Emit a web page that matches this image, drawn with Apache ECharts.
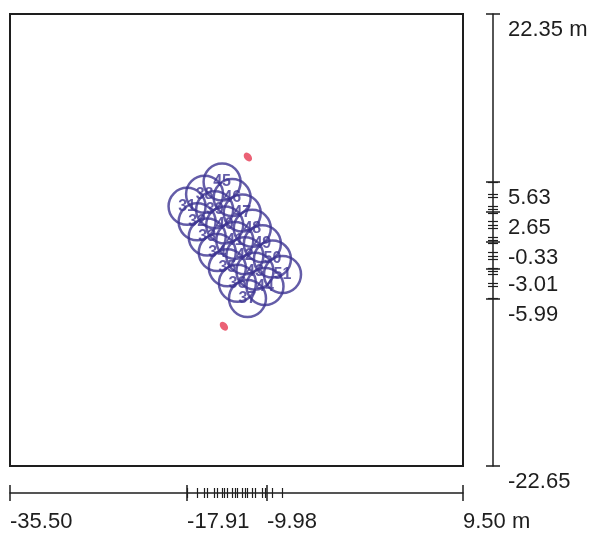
<!DOCTYPE html>
<html>
<head>
<meta charset="utf-8">
<script src="https://cdn.jsdelivr.net/npm/echarts@6/dist/echarts.min.js"></script>
<style>
  html, body { margin: 0; padding: 0; background: #fff; }
  #main { width: 598px; height: 535px; }
</style>
</head>
<body>
<div id="main"></div>
<script>
// sensor positions (m)
var sensorId = [31, 32, 33, 34, 35, 36, 37, 38, 39, 40, 41, 42, 43, 44, 45, 46, 47, 48, 49, 50, 51];
var sensorX = [-17.91, -16.91, -15.91, -14.91, -13.91, -12.91, -11.91,
               -16.17, -15.17, -14.17, -13.17, -12.17, -11.17, -10.17,
               -14.43, -13.43, -12.43, -11.43, -10.43, -9.43, -8.43];
var sensorY = [3.20, 1.67, 0.14, -1.39, -2.92, -4.45, -5.98,
               4.40, 2.87, 1.34, -0.19, -1.72, -3.25, -4.78,
               5.63, 4.07, 2.54, 1.01, -0.52, -2.05, -3.58];

// red markers
var markerX = [-11.87, -14.25];
var markerY = [8.11, -8.73];

// ruler ticks
var xMajor = [-35.5, -17.91, -9.98, 9.5];
var xMajorLabels = ['-35.50', '-17.91', '-9.98', '9.50 m'];
var yMajor = [22.35, 5.63, 2.65, -0.33, -3.01, -5.99, -22.65];
var yMajorLabels = ['22.35 m', '5.63', '2.65', '-0.33', '-3.01', '-5.99', '-22.65'];

var xMin = -35.5, xMax = 9.5, yMin = -22.65, yMax = 22.35;
var ink = '#1e1e1e';
var purple = '#3d3592';
var font = 'Liberation Sans, Arial, sans-serif';

function labelOf(values, labels) {
  return function (v) {
    for (var i = 0; i < values.length; i++) {
      if (Math.abs(values[i] - v) < 1e-6) return labels[i];
    }
    return '';
  };
}

// extra axes used only as rulers beside the plot
function ruler(kind, extra) {
  var a = {
    type: 'value',
    min: kind == 'x' ? xMin : yMin,
    max: kind == 'x' ? xMax : yMax,
    position: kind == 'x' ? 'bottom' : 'right',
    offset: kind == 'x' ? 27 : 30,
    splitLine: { show: false },
    axisLine: { show: false, onZero: false },
    axisTick: { show: false },
    axisLabel: { show: false }
  };
  return Object.assign(a, extra);
}

var sensors = sensorX.map(function (x, i) { return [x, sensorY[i], sensorId[i]]; });
var markers = markerX.map(function (x, i) { return [x, markerY[i]]; });

var option = {
  animation: false,
  grid: {
    left: 10, top: 14, width: 453, height: 452,
    show: true, borderColor: ink, borderWidth: 2, backgroundColor: 'transparent'
  },
  xAxis: [
    { type: 'value', min: xMin, max: xMax, show: false },
    ruler('x', {
      axisLine: { show: true, onZero: false, lineStyle: { color: ink, width: 1.5 } },
      axisTick: { show: true, length: 8, customValues: xMajor, lineStyle: { color: ink, width: 1.5 } },
      axisLabel: {
        show: true, customValues: xMajor, formatter: labelOf(xMajor, xMajorLabels),
        align: 'left', margin: 18, color: ink, fontSize: 22, fontFamily: font
      }
    }),
    ruler('x', {
      axisTick: { show: true, inside: true, length: 8, customValues: xMajor, lineStyle: { color: ink, width: 1.5 } }
    }),
    ruler('x', {
      axisTick: { show: true, length: 5, customValues: sensorX, lineStyle: { color: ink, width: 1.2 } }
    }),
    ruler('x', {
      axisTick: { show: true, inside: true, length: 5, customValues: sensorX, lineStyle: { color: ink, width: 1.2 } }
    })
  ],
  yAxis: [
    { type: 'value', min: yMin, max: yMax, show: false },
    ruler('y', {
      axisLine: { show: true, onZero: false, lineStyle: { color: ink, width: 1.5 } },
      axisTick: { show: true, length: 7, customValues: yMajor, lineStyle: { color: ink, width: 1.5 } },
      axisLabel: {
        show: true, customValues: yMajor, formatter: labelOf(yMajor, yMajorLabels),
        align: 'left', verticalAlign: 'top', padding: [5, 0, 0, 0],
        margin: 15, color: ink, fontSize: 22, fontFamily: font
      }
    }),
    ruler('y', {
      axisTick: { show: true, inside: true, length: 7, customValues: yMajor, lineStyle: { color: ink, width: 1.5 } }
    }),
    ruler('y', {
      axisTick: { show: true, length: 5, customValues: sensorY, lineStyle: { color: ink, width: 1.2 } }
    }),
    ruler('y', {
      axisTick: { show: true, inside: true, length: 5, customValues: sensorY, lineStyle: { color: ink, width: 1.2 } }
    })
  ],
  series: [
    {
      type: 'scatter',
      xAxisIndex: 0, yAxisIndex: 0,
      data: sensors,
      symbol: 'circle',
      symbolSize: 37,
      itemStyle: { color: 'rgba(0,0,0,0)', borderColor: purple, borderWidth: 2.5 },
      label: {
        show: true, position: 'inside',
        formatter: function (p) { return p.value[2]; },
        color: purple, fontSize: 16, fontWeight: 'bold', fontFamily: font
      }
    },
    {
      type: 'scatter',
      xAxisIndex: 0, yAxisIndex: 0,
      data: markers,
      symbol: 'circle',
      symbolSize: [7, 10],
      symbolRotate: 40,
      itemStyle: { color: '#e63a52' }
    }
  ]
};

var myChart = echarts.init(document.getElementById('main'));
myChart.setOption(option);
</script>
</body>
</html>
